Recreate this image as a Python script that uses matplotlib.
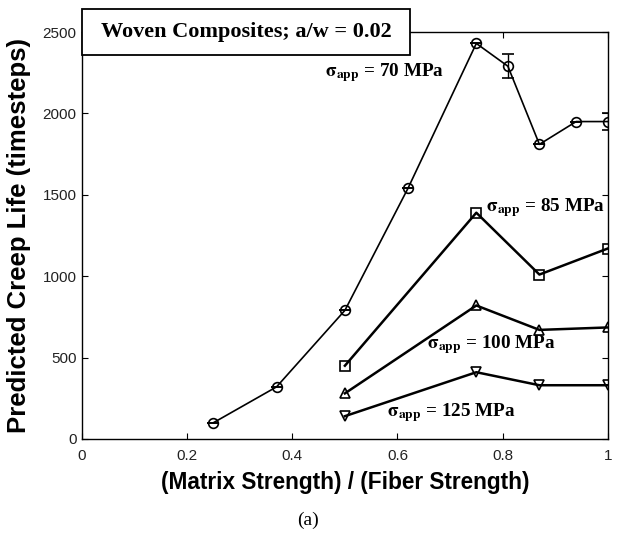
import matplotlib
matplotlib.use("Agg")
import matplotlib.pyplot as plt
from matplotlib.patches import Rectangle

plt.rcParams['mathtext.fontset'] = 'stix'

# ratio of matrix strength to fiber strength
x_70 = [0.25, 0.37, 0.50, 0.62, 0.75, 0.81, 0.87, 0.94, 1.00]
life_70 = [100, 320, 790, 1540, 2430, 2290, 1810, 1950, 1950]
err_70 = [0, 0, 0, 0, 0, 75, 0, 0, 50]

x_hi = [0.50, 0.75, 0.87, 1.00]
life_85 = [450, 1390, 1010, 1170]
life_100 = [280, 820, 670, 685]
life_125 = [140, 410, 330, 330]

x_ticks = [0, 0.2, 0.4, 0.6, 0.8, 1]
x_ticklabels = ['0', '0.2', '0.4', '0.6', '0.8', '1']
y_ticks = [0, 500, 1000, 1500, 2000, 2500]

# label text, position (data coords)
labels = [
    ('70', 0.463, 2254),
    ('85', 0.768, 1419),
    ('100', 0.657, 577),
    ('125', 0.581, 160),
]

fig = plt.figure(figsize=(6.17, 5.34), dpi=100)
ax = fig.add_axes([0.133, 0.178, 0.852, 0.762])

mk = dict(markerfacecolor='none', markeredgecolor='black', markeredgewidth=1.2, color='black')
ax.errorbar(x_70, life_70, yerr=err_70, marker='o', markersize=7, linewidth=1.2,
            capsize=4, elinewidth=1.0, ecolor='black', **mk)
ax.plot(x_hi, life_85, marker='s', markersize=7, linewidth=1.8, **mk)
ax.plot(x_hi, life_100, marker='^', markersize=7.5, linewidth=1.8, **mk)
ax.plot(x_hi, life_125, marker='v', markersize=7.5, linewidth=1.8, **mk)

for val, lx, ly in labels:
    ax.text(lx, ly, r'$\mathbf{\sigma}_{\mathbf{app}}$' + f' = {val} MPa',
            fontsize=13.8, fontweight='bold', family='Liberation Serif',
            ha='left', va='center')

ax.set_xlim(0, 1)
ax.set_ylim(0, 2500)
ax.set_xticks(x_ticks)
ax.set_xticklabels(x_ticklabels)
ax.set_yticks(y_ticks)
ax.tick_params(direction='in', top=True, right=True, length=4, width=0.8,
               labelsize=11, labelcolor='#222222', pad=4)
ax.tick_params(axis='x', pad=7)
for lab in ax.get_xticklabels() + ax.get_yticklabels():
    lab.set_family('Liberation Sans')
for sp in ax.spines.values():
    sp.set_linewidth(1.0)

ax.set_xlabel('(Matrix Strength) / (Fiber Strength)', fontsize=16.3,
              fontweight='bold', family='Liberation Sans')
ax.set_ylabel('Predicted Creep Life (timesteps)', fontsize=18.5,
              fontweight='bold', family='Liberation Sans')
ax.xaxis.set_label_coords(0.5, -0.078)
ax.yaxis.set_label_coords(-0.097, 0.5)

# title box sticking out above the axes
box = Rectangle((0, 0.943), 0.624, 0.114, transform=ax.transAxes,
                facecolor='white', edgecolor='black', linewidth=1.3,
                clip_on=False, zorder=10)
ax.add_patch(box)
ax.text(0.312, 1.0, 'Woven Composites; a/w = 0.02', transform=ax.transAxes,
        fontsize=16, fontweight='bold', family='Liberation Serif',
        ha='center', va='center', zorder=11)

fig.text(0.5, 0.026, '(a)', fontsize=14, family='Liberation Serif',
         ha='center', va='center')

fig.savefig('out.png', dpi=100)
